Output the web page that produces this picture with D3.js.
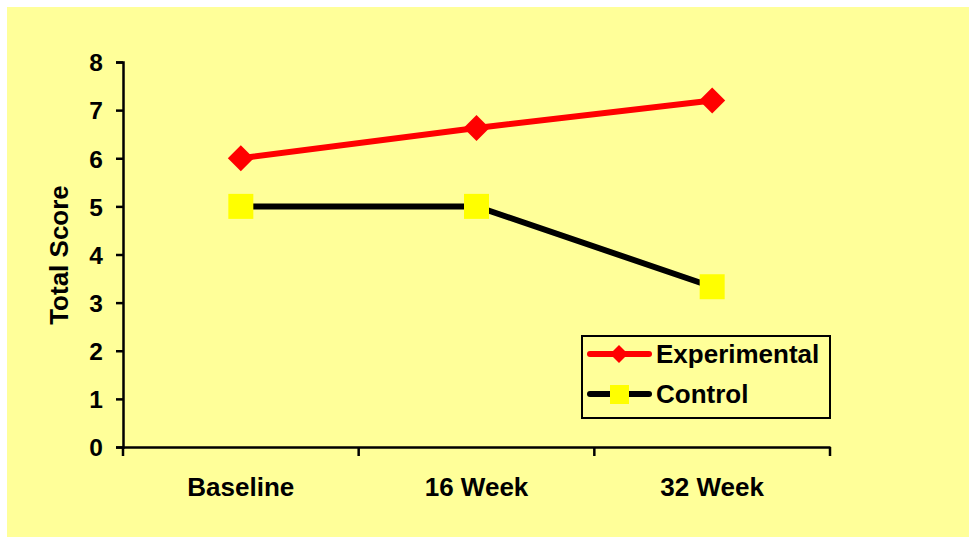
<!DOCTYPE html>
<html>
<head>
<meta charset="utf-8">
<script src="https://cdn.jsdelivr.net/npm/d3@7"></script>
<style>
  body { margin: 0; background: #fff; }
  text { font-family: "Liberation Sans", Arial, sans-serif; font-weight: bold; }
</style>
</head>
<body>
<div id="chart"></div>
<script>
const width = 969;
const height = 538;

// data
const periods = ["Baseline", "16 Week", "32 Week"];
const experimental = [6, 6.63, 7.2];
const control = [5, 5, 3.33];
const yTicks = [0, 1, 2, 3, 4, 5, 6, 7, 8];

const svg = d3.select("#chart")
  .append("svg")
  .attr("width", width)
  .attr("height", height);

// fundo amarelo
svg.append("rect")
  .attr("x", 7).attr("y", 7)
  .attr("width", width - 7).attr("height", height - 8)
  .attr("fill", "#FFFF99");

const x = d3.scaleBand().domain(periods).range([123, 830]);
const y = d3.scaleLinear().domain([0, 8]).range([447, 62]);

// eixo y
const yAxis = svg.append("g")
  .attr("transform", "translate(123,0)")
  .call(d3.axisLeft(y).tickValues(yTicks).tickSize(7).tickPadding(13));
yAxis.select(".domain").attr("stroke-width", 2.5);
yAxis.selectAll(".tick line").attr("stroke-width", 2.5);
yAxis.selectAll("text").attr("font-size", 24.5).attr("fill", "#000").attr("dy", "0.36em");

// eixo x
const xAxis = svg.append("g")
  .attr("transform", "translate(0,447)")
  .call(d3.axisBottom(x).tickSize(0).tickPadding(0).tickFormat(""));
xAxis.select(".domain").attr("stroke-width", 2.5);

// marcas entre categorias
const bounds = periods.map(p => x(p)).concat([x.range()[1]]);
svg.selectAll(".xtick")
  .data(bounds)
  .enter()
  .append("line")
  .attr("x1", d => d).attr("x2", d => d)
  .attr("y1", 447).attr("y2", 456)
  .attr("stroke", "#000").attr("stroke-width", 2.5);

svg.selectAll(".xlabel")
  .data(periods)
  .enter()
  .append("text")
  .attr("x", d => x(d) + x.bandwidth() / 2)
  .attr("y", 496)
  .attr("text-anchor", "middle")
  .attr("font-size", 26)
  .text(d => d);

// titulo do eixo y
svg.append("text")
  .attr("transform", "translate(68,255) rotate(-90)")
  .attr("text-anchor", "middle")
  .attr("font-size", 26)
  .text("Total Score");

const cx = p => x(p) + x.bandwidth() / 2;
const line = d3.line().x((d, i) => cx(periods[i])).y(d => y(d));

svg.append("path")
  .datum(experimental)
  .attr("d", line)
  .attr("fill", "none")
  .attr("stroke", "#FF0000")
  .attr("stroke-width", 6);

svg.append("path")
  .datum(control)
  .attr("d", line)
  .attr("fill", "none")
  .attr("stroke", "#000")
  .attr("stroke-width", 6);

const diamond = r => `M0,${-r}L${r},0L0,${r}L${-r},0Z`;

svg.selectAll(".exp")
  .data(experimental)
  .enter()
  .append("path")
  .attr("d", diamond(13))
  .attr("transform", (d, i) => `translate(${cx(periods[i])},${y(d)})`)
  .attr("fill", "#FF0000");

svg.selectAll(".ctl")
  .data(control)
  .enter()
  .append("rect")
  .attr("x", (d, i) => cx(periods[i]) - 12.5)
  .attr("y", d => y(d) - 12.5)
  .attr("width", 25).attr("height", 25)
  .attr("fill", "#FFFF00");

// legenda
const legend = svg.append("g");
legend.append("rect")
  .attr("x", 582).attr("y", 336)
  .attr("width", 248).attr("height", 82)
  .attr("fill", "none")
  .attr("stroke", "#000").attr("stroke-width", 2);

const items = [
  { name: "Experimental", color: "#FF0000", y: 354 },
  { name: "Control", color: "#000", y: 394 }
];
items.forEach((it, i) => {
  legend.append("line")
    .attr("x1", 590).attr("x2", 649)
    .attr("y1", it.y).attr("y2", it.y)
    .attr("stroke", it.color).attr("stroke-width", 6)
    .attr("stroke-linecap", "round");
  if (i === 0) {
    legend.append("path")
      .attr("d", diamond(9))
      .attr("transform", `translate(619,${it.y})`)
      .attr("fill", "#FF0000");
  } else {
    legend.append("rect")
      .attr("x", 610).attr("y", it.y - 9)
      .attr("width", 19).attr("height", 19)
      .attr("fill", "#FFFF00");
  }
  legend.append("text")
    .attr("x", 656).attr("y", it.y + 9)
    .attr("font-size", 26)
    .text(it.name);
});
</script>
</body>
</html>
